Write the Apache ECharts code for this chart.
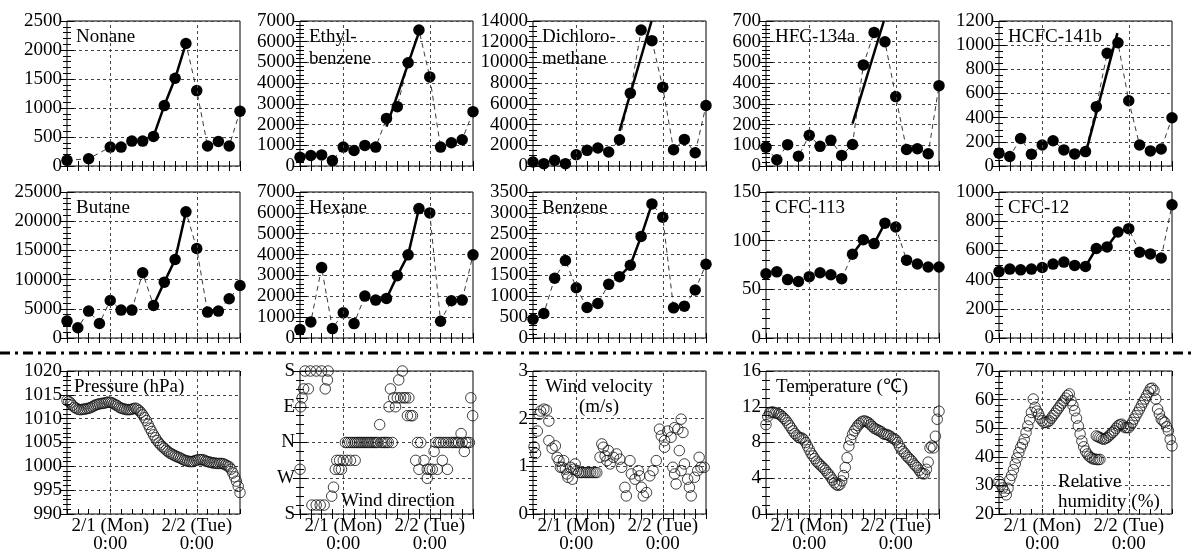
<!DOCTYPE html>
<html>
<head>
<meta charset="utf-8">
<script src="https://cdn.jsdelivr.net/npm/echarts@6/dist/echarts.min.js"></script>
<style>
html, body { margin: 0; padding: 0; background: #fff; }
#chart { width: 1192px; height: 555px; }
</style>
</head>
<body>
<div id="chart"></div>
<script>
// sampling times (hours from 1/31 12:00), day marks
var sampleHours = [0, 3, 6, 9, 12, 15, 18, 21, 24, 27, 30, 33, 36, 39, 42, 45, 48];
var dayHours = [12, 36];
var dayLabels = ['2/1 (Mon)\n0:00', '2/2 (Tue)\n0:00'];
var windDirLabels = ['S', 'W', 'N', 'E', 'S'];

// VOC concentrations, one value per 3 h sample
var nonane = [97, null, 126, null, 326, 326, 430, 430, 510, 1042, 1512, 2113, 1300, 344, 424, 344, 945];
var ethylbenzene = [423, 505, 537, 260, 912, 749, 993, 912, 2296, 2866, 4984, 6564, 4300, 912, 1124, 1270, 2622];
var dichloromethane = [385, 225, 546, 225, 1091, 1509, 1734, 1348, 2536, 7030, 13130, 12103, 7608, 1573, 2568, 1284, 5843];
var hfc134a = [91, 30, 103, 47, 148, 95, 124, 51, 104, 488, 645, 600, 335, 80, 83, 59, 388];
var hcfc141b = [106, 79, 228, 98, 174, 209, 133, 100, 119, 491, 933, 1020, 540, 174, 125, 141, 399];
var butane = [2892, 1751, 4603, 2493, 6429, 4775, 4775, 11164, 5573, 9566, 13445, 21597, 15322, 4432, 4603, 6714, 8996];
var hexane = [402, 772, 3376, 450, 1206, 691, 2010, 1817, 1897, 2990, 3987, 6206, 5997, 804, 1785, 1817, 3987];
var benzene = [450, 587, 1431, 1857, 1206, 732, 828, 1286, 1471, 1744, 2436, 3215, 2894, 723, 764, 1150, 1768];
var cfc113 = [66, 68, 60, 58, 63, 67, 65, 61, 86, 101, 97, 118, 114, 80, 76, 73, 73];
var cfc12 = [455, 472, 467, 472, 483, 506, 520, 497, 490, 613, 624, 726, 749, 587, 576, 548, 913];

// straight rise lines [hour, value]
var ethylbenzeneFit = [[24, 1900], [33, 6450]];
var dichloromethaneFit = [[24, 3400], [32.9, 14000]];
var hfc134aFit = [[24, 205], [32.7, 700]];
var hcfc141bFit = [[24, 100], [32.85, 1100]];

// meteorology, half-hourly
var pressure = [1013.8, 1013.6, 1013.3, 1012.8, 1012.4, 1012.2, 1012.0, 1011.9, 1011.9, 1012.0, 1012.0, 1012.1, 1012.2, 1012.3, 1012.5, 1012.7, 1012.9, 1013.0, 1013.1, 1013.2, 1013.2, 1013.3, 1013.4, 1013.5, 1013.4,
  1013.3, 1013.1, 1012.9, 1012.7, 1012.4, 1012.2, 1012.1, 1012.0, 1011.9, 1011.9, 1011.9, 1012.0, 1012.1, 1012.2, 1012.0, 1011.7, 1011.3, 1010.8, 1010.2, 1009.6, 1008.8, 1008.0, 1007.3, 1006.6,
  1006.0, 1005.4, 1004.9, 1004.5, 1004.1, 1003.8, 1003.4, 1003.1, 1002.8, 1002.6, 1002.4, 1002.2, 1002.0, 1001.9, 1001.7, 1001.5, 1001.3, 1001.2, 1001.1, 1001.0, 1001.0, 1001.0, 1001.2, 1001.3,
  1001.4, 1001.4, 1001.4, 1001.3, 1001.1, 1001.0, 1000.9, 1000.8, 1000.7, 1000.7, 1000.6, 1000.6, 1000.6, 1000.6, 1000.5, 1000.3, 1000.1, 999.9, 999.4, 998.6, 997.8, 996.9, 995.8, 994.5];
var temperature = [10.0, 10.9, 11.3, 11.4, 11.4, 11.3, 11.3, 11.2, 11.1, 10.9, 10.7, 10.5, 10.2, 9.9, 9.6, 9.3, 9.0, 8.8, 8.6, 8.5, 8.5, 8.3, 8.0, 7.6, 7.2,
  6.8, 6.5, 6.2, 5.9, 5.7, 5.5, 5.3, 5.1, 4.9, 4.6, 4.4, 4.1, 3.8, 3.5, 3.3, 3.2, 3.3, 3.7, 4.3, 5.2, 6.3, 7.6, 8.3, 8.9,
  9.3, 9.6, 9.9, 10.1, 10.3, 10.4, 10.4, 10.3, 10.2, 10.0, 9.8, 9.6, 9.5, 9.4, 9.3, 9.2, 9.0, 8.9, 8.9, 8.8, 8.7, 8.5, 8.4, 8.3,
  8.0, 7.6, 7.3, 7.0, 6.8, 6.5, 6.3, 6.1, 5.9, 5.6, 5.4, 5.2, 4.9, 4.6, 4.5, 4.5, 5.0, 5.8, 7.4, 7.6, 7.4, 8.7, 10.6, 11.5];
var humidityDay1 = [31.4, 30.2, 29.1, 27.9, 26.7, 29.0, 32.0, 33.5, 35.5, 37.5, 39.6, 41.5, 43.2, 44.5, 46.1, 48.5, 50.8, 53.0, 55.5, 60.2, 57.3, 56.0, 54.9, 53.5, 52.6,
  52.0, 52.0, 52.2, 52.6, 53.5, 54.4, 55.2, 56.1, 57.0, 57.9, 58.8, 59.6, 60.5, 61.4, 62.0, 59.6, 58.0, 56.1, 53.5, 50.8, 48.0, 45.5, 43.5, 42.0,
  41.0, 40.2, 39.7, 39.3, 39.2, 39.1, 39.0, 39.1];
var humidityDay2 = [47.3, 47.0, 46.7, 46.4, 46.1, 46.4, 46.7, 47.3, 47.9, 48.5, 49.1, 50.0, 50.8, 51.2, 51.4, 50.8, 50.2, 50.2, 50.2,
  51.0, 52.0, 53.2, 54.4, 55.5, 56.7, 57.9, 59.1, 60.2, 61.4, 62.6, 63.8, 64.0, 63.2, 60.2, 56.7, 55.0, 53.2, 52.5, 52.0, 50.5, 49.1, 46.1, 43.8];
var humidityStart = [0, 27];

// wind [hour, value]
var windDir = [[0.0, 112.5], [0.2, 270], [0.6, 292.5], [1.0, 315], [1.4, 360], [2.3, 315], [2.9, 360], [3.3, 22.5], [4.5, 360], [4.5, 22.5], [5.6, 22.5], [6.0, 360], [6.7, 22.5], [7.0, 315], [7.6, 337.5], [7.8, 360],
  [8.8, 45], [9.3, 67.5], [9.8, 112.5], [10.2, 135], [10.8, 112.5], [11.0, 135], [11.5, 112.5], [12.0, 135], [12.6, 180], [13.0, 135], [13.2, 180], [13.8, 180], [14.0, 135], [14.4, 180], [15.0, 180], [15.3, 135],
  [15.5, 180], [16.0, 180], [16.5, 180], [17.0, 180], [17.5, 180], [18.0, 180], [18.5, 180], [19.0, 180], [19.5, 180], [20.0, 180], [20.5, 180], [21.0, 180], [21.5, 180], [22.1, 225], [22.5, 180], [23.0, 180],
  [23.5, 180], [24.0, 180], [24.5, 180], [24.7, 270], [25.1, 315], [25.6, 180], [26.0, 292.5], [26.5, 270], [27.0, 292.5], [27.4, 337.5], [27.9, 292.5], [28.4, 360], [28.8, 292.5], [29.3, 292.5], [29.8, 247.5],
  [30.2, 292.5], [30.7, 247.5], [31.2, 247.5], [32.1, 135], [32.6, 180], [33.0, 112.5], [33.5, 180], [34.4, 135], [35.3, 112.5], [35.3, 90], [36.0, 112.5], [36.7, 112.5], [37.2, 157.5], [37.7, 180], [38.1, 112.5],
  [38.5, 180], [39.0, 180], [39.5, 135], [39.8, 180], [40.5, 180], [40.9, 112.5], [41.2, 180], [42.0, 180], [42.5, 180], [43.0, 180], [43.5, 180], [44.0, 180], [44.7, 202.5], [45.0, 180], [45.6, 157.5], [46.0, 180],
  [46.5, 180], [47.0, 180], [47.4, 292.5], [47.9, 247.5]];
var windSpeed = [[0.3, 1.41], [0.7, 1.27], [1.2, 1.74], [1.7, 2.09], [2.1, 2.16], [3.0, 2.20], [3.7, 2.18], [4.4, 1.95], [4.4, 1.54], [5.3, 1.38], [6.2, 1.43], [6.7, 1.19], [7.2, 1.12], [7.6, 0.98], [8.1, 0.98],
  [8.5, 1.12], [9.0, 0.94], [9.4, 0.84], [9.7, 0.77], [10.4, 0.98], [10.9, 0.73], [11.3, 0.94], [11.7, 1.05], [12.2, 0.91], [12.7, 0.87], [13.3, 0.87], [13.8, 0.87], [14.4, 0.87], [14.9, 0.87], [15.5, 0.87],
  [16.0, 0.87], [16.6, 0.87], [17.2, 0.87], [17.7, 0.87], [18.6, 1.19], [19.1, 1.47], [19.5, 1.40], [20.0, 1.22], [20.5, 1.12], [20.9, 1.33], [21.4, 1.05], [22.3, 1.19], [23.2, 1.26], [24.1, 1.15], [24.6, 0.98],
  [25.5, 0.56], [25.9, 0.38], [26.9, 1.12], [27.3, 0.84], [28.3, 0.73], [29.2, 0.91], [29.6, 0.80], [30.1, 0.56], [30.6, 0.38], [31.5, 0.45], [32.4, 0.80], [33.3, 0.91], [34.2, 1.12], [35.1, 1.78], [35.6, 1.64],
  [36.5, 1.54], [36.5, 1.40], [37.4, 1.74], [38.3, 1.61], [39.3, 1.81], [40.2, 1.78], [41.1, 1.99], [41.6, 1.71], [38.8, 0.98], [39.3, 0.84], [39.7, 0.63], [40.6, 1.33], [41.1, 0.91], [42.0, 1.05], [42.9, 0.73],
  [43.4, 0.56], [43.9, 0.38], [44.8, 0.77], [45.7, 0.91], [46.1, 1.19], [46.6, 0.98], [47.5, 0.98]];

var FONT = 'Liberation Serif';
var colLeft = [67, 300, 533, 766, 999];
var rowTop = [21, 192, 371];
var rowHeight = [145, 146, 143];
var plotWidth = 173;

// top two rows
var vocPanels = [
  {title: 'Nonane', values: nonane, max: 2500, step: 500, minor: 5, rise: [8, 11]},
  {title: 'Ethyl-\nbenzene', values: ethylbenzene, max: 7000, step: 1000, minor: 5, fit: ethylbenzeneFit},
  {title: 'Dichloro-\nmethane', values: dichloromethane, max: 14000, step: 2000, minor: 4, fit: dichloromethaneFit},
  {title: 'HFC-134a', values: hfc134a, max: 700, step: 100, minor: 5, fit: hfc134aFit},
  {title: 'HCFC-141b', values: hcfc141b, max: 1200, step: 200, minor: 4, fit: hcfc141bFit},
  {title: 'Butane', values: butane, max: 25000, step: 5000, minor: 5, rise: [8, 11]},
  {title: 'Hexane', values: hexane, max: 7000, step: 1000, minor: 5, rise: [8, 11]},
  {title: 'Benzene', values: benzene, max: 3500, step: 500, minor: 5, rise: [8, 11]},
  {title: 'CFC-113', values: cfc113, max: 150, step: 50, minor: 5, rise: [8, 11]},
  {title: 'CFC-12', values: cfc12, max: 1000, step: 200, minor: 4, rise: [8, 12]}
];

function halfHourly(start, values) {
  return values.map(function(v, i) { return [start + i * 0.5, v]; });
}

var metPanels = [
  {min: 990, max: 1020, step: 5, minor: 5, sets: [halfHourly(0, pressure)],
   label: {text: 'Pressure (hPa)', dx: 7, dy: 5, lh: 22, align: 'left'}},
  {min: 0, max: 360, step: 90, minor: 4, sets: [windDir], names: windDirLabels,
   label: {text: 'Wind direction', dx: 41, dy: 120, lh: 20, align: 'left'}},
  {min: 0, max: 3, step: 1, minor: 10, sets: [windSpeed],
   label: {text: 'Wind velocity\n(m/s)', dx: 66, dy: 6, lh: 20, align: 'center'}},
  {min: 0, max: 16, step: 4, minor: 4, sets: [halfHourly(0, temperature)],
   label: {text: 'Temperature (\u2103)', dx: 10, dy: 5, lh: 22, align: 'left'}},
  {min: 20, max: 70, step: 10, minor: 5, sets: [halfHourly(humidityStart[0], humidityDay1), halfHourly(humidityStart[1], humidityDay2)],
   label: {text: 'Relative\nhumidity (%)', dx: 59, dy: 101, lh: 20, align: 'left'}}
];

var grids = [], xAxes = [], yAxes = [], series = [], graphics = [];

var gridLineStyle = {color: '#444', width: 1, type: [3, 3]};
var dayMarks = {
  silent: true,
  symbol: ['none', 'none'],
  label: {show: false},
  lineStyle: gridLineStyle,
  emphasis: {disabled: true},
  animation: false,
  data: dayHours.map(function(h) { return {xAxis: h}; })
};

function addAxes(p, row, col, y, showX) {
  grids.push({left: colLeft[col], top: rowTop[row], width: plotWidth, height: rowHeight[row],
    show: true, borderColor: '#000', borderWidth: 1, backgroundColor: 'transparent'});
  var xBase = {gridIndex: p, type: 'value', min: 0, max: 48, interval: 3,
    axisLine: {show: false}, splitLine: {show: false},
    axisTick: {inside: true, length: 5, lineStyle: {color: '#000', width: 1}}};
  xAxes.push(Object.assign({}, xBase, {position: 'bottom',
    axisLabel: {show: showX, margin: 3, color: '#000', fontFamily: FONT, fontSize: 19, lineHeight: 18,
      formatter: function(v) { var k = dayHours.indexOf(v); return k < 0 ? '' : dayLabels[k]; }}}));
  xAxes.push(Object.assign({}, xBase, {position: 'top', axisLabel: {show: false}}));
  var yBase = {gridIndex: p, type: 'value', min: y.min, max: y.max, interval: y.step,
    axisLine: {show: false},
    axisTick: {inside: true, length: 7, lineStyle: {color: '#000', width: 1}},
    minorTick: {show: true, splitNumber: y.minor, length: 4, lineStyle: {color: '#000', width: 1}}};
  yAxes.push(Object.assign({}, yBase, {position: 'left',
    splitLine: {show: true, lineStyle: gridLineStyle},
    axisLabel: {margin: 5, color: '#000', fontFamily: FONT, fontSize: 19,
      formatter: function(v) { return y.names ? y.names[Math.round((v - y.min) / y.step)] : String(v); }}}));
  yAxes.push(Object.assign({}, yBase, {position: 'right', splitLine: {show: false}, axisLabel: {show: false}}));
}

function addText(text, x, y, lh, align) {
  graphics.push({type: 'text', x: x, y: y, z: 100,
    style: {text: text, font: '19px "' + FONT + '"', fill: '#000', align: align, verticalAlign: 'top', lineHeight: lh}});
}

vocPanels.forEach(function(c, p) {
  var row = Math.floor(p / 5), col = p % 5;
  addAxes(p, row, col, {min: 0, max: c.max, step: c.step, minor: c.minor}, false);
  var pts = sampleHours.map(function(h, i) { return [h, c.values[i]]; });
  series.push({type: 'line', xAxisIndex: 2 * p, yAxisIndex: 2 * p, data: pts, connectNulls: true,
    symbol: 'circle', symbolSize: 11.5, itemStyle: {color: '#000'},
    lineStyle: {color: '#222', width: 0.9, type: [5, 4]}, markLine: dayMarks, z: 3});
  var fit = c.fit ? c.fit : pts.slice(c.rise[0], c.rise[1] + 1);
  series.push({type: 'line', xAxisIndex: 2 * p, yAxisIndex: 2 * p, data: fit, symbol: 'none',
    lineStyle: {color: '#000', width: 2.5}, z: 4});
  addText(c.title, colLeft[col] + 9, rowTop[row] + 5, 22, 'left');
});

metPanels.forEach(function(c, k) {
  var p = 10 + k;
  addAxes(p, 2, k, c, true);
  c.sets.forEach(function(set, j) {
    series.push({type: 'scatter', xAxisIndex: 2 * p, yAxisIndex: 2 * p, data: set,
      symbol: 'circle', symbolSize: 10.5,
      itemStyle: {color: 'rgba(0,0,0,0)', borderColor: '#111', borderWidth: 1},
      markLine: j === 0 ? dayMarks : undefined, z: 3});
  });
  addText(c.label.text, colLeft[k] + c.label.dx, rowTop[2] + c.label.dy, c.label.lh, c.label.align);
});

// dash-dot separator between VOC and weather rows
graphics.push({type: 'line', z: 100, shape: {x1: 0, y1: 353, x2: 1192, y2: 353},
  style: {stroke: '#000', lineWidth: 3, lineDash: [10, 5, 3, 5]}});

var myChart = echarts.init(document.getElementById('chart'));
myChart.setOption({
  animation: false,
  backgroundColor: '#fff',
  grid: grids,
  xAxis: xAxes,
  yAxis: yAxes,
  series: series,
  graphic: graphics
});
</script>
</body>
</html>
